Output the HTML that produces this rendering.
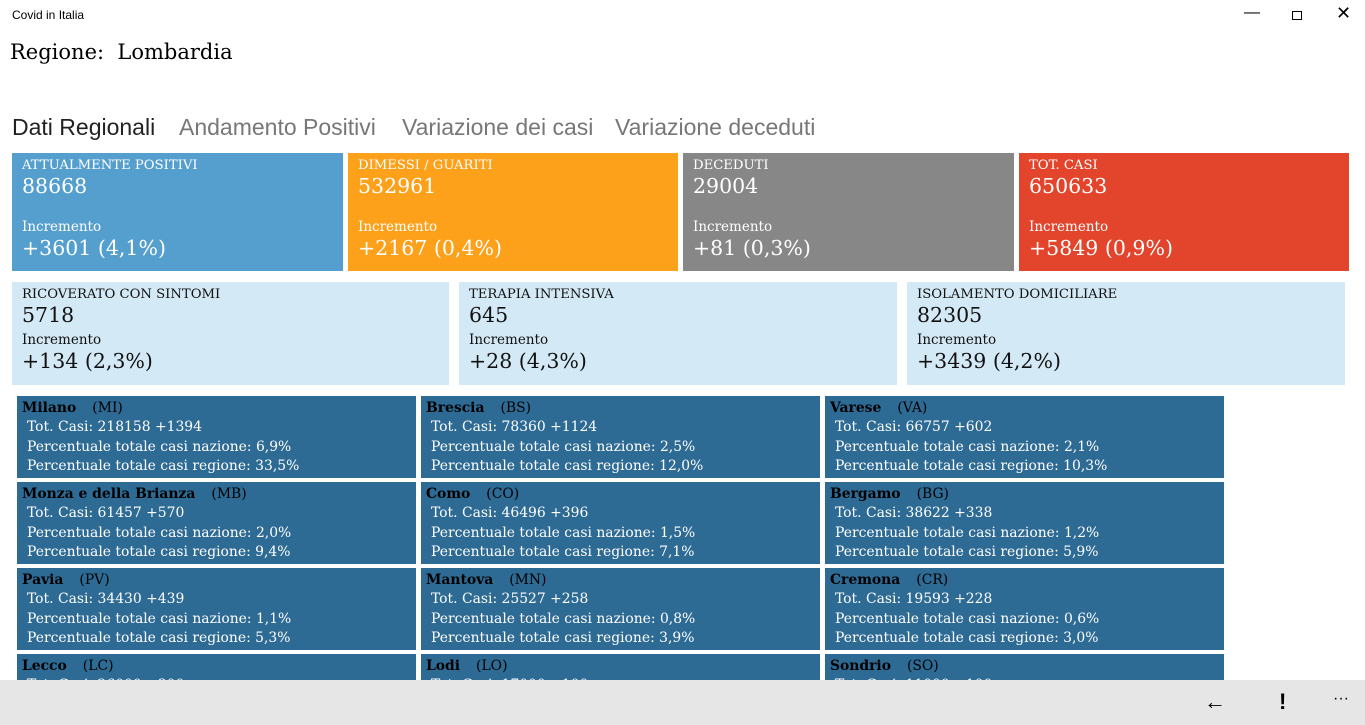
<!DOCTYPE html>
<html style="overflow:hidden;width:1365px;height:725px"><head><meta charset="utf-8"><style>
*{margin:0;padding:0;box-sizing:border-box}
body{width:1365px;height:725px;overflow:hidden;background:#fff;position:relative;font-family:"DejaVu Serif","Liberation Serif",serif}
.a{position:absolute}
.sans{font-family:"Liberation Sans",sans-serif}
.card{position:absolute;color:#fff;padding:5px 10px}
.card .t{font-size:13.2px;line-height:16px}
.card .n{font-size:20.5px;line-height:24px}
.card .i{font-size:13.5px;line-height:18px}
.lt{color:#111}
.p{position:absolute;background:#2d6a94;color:#fff;width:399px;height:82px;padding:3px 5px;font-size:13.9px;line-height:19.3px;white-space:nowrap}
.p b{color:#000}
.p span.c{color:#000;margin-left:16px}
.p div{padding-left:5px}
</style></head><body>
<div class="a sans" style="left:12px;top:8px;font-size:12px">Covid in Italia</div>
<div class="a sans" style="left:1244px;top:4px;font-size:16px">&#8212;</div>
<div class="a" style="left:1292px;top:11px;width:10px;height:9px;border:1px solid #000"></div>
<div class="a sans" style="left:1336px;top:3px;font-size:18px">✕</div>
<div class="a" style="left:10px;top:40px;font-size:21px">Regione:&nbsp; Lombardia</div>
<div class="a sans" style="left:12px;top:114px;font-size:23px;color:#222">Dati Regionali</div>
<div class="a sans" style="left:179px;top:114px;font-size:23px;color:#777">Andamento Positivi</div>
<div class="a sans" style="left:402px;top:114px;font-size:23px;color:#777">Variazione dei casi</div>
<div class="a sans" style="left:615px;top:114px;font-size:23px;color:#777">Variazione deceduti</div>

<div class="card" style="left:12px;top:153px;width:331px;height:118px;background:#559fcf"><div class="t">ATTUALMENTE POSITIVI</div><div class="n">88668</div><div class="i" style="margin-top:20px">Incremento</div><div class="n">+3601 (4,1%)</div></div>
<div class="card" style="left:348px;top:153px;width:330px;height:118px;background:#fda01a"><div class="t">DIMESSI / GUARITI</div><div class="n">532961</div><div class="i" style="margin-top:20px">Incremento</div><div class="n">+2167 (0,4%)</div></div>
<div class="card" style="left:683px;top:153px;width:331px;height:118px;background:#878787"><div class="t">DECEDUTI</div><div class="n">29004</div><div class="i" style="margin-top:20px">Incremento</div><div class="n">+81 (0,3%)</div></div>
<div class="card" style="left:1019px;top:153px;width:330px;height:118px;background:#e2452c"><div class="t">TOT. CASI</div><div class="n">650633</div><div class="i" style="margin-top:20px">Incremento</div><div class="n">+5849 (0,9%)</div></div>

<div class="card lt" style="left:12px;top:282px;width:437px;height:103px;background:#d4e9f6"><div class="t">RICOVERATO CON SINTOMI</div><div class="n">5718</div><div class="i" style="margin-top:4px">Incremento</div><div class="n">+134 (2,3%)</div></div>
<div class="card lt" style="left:459px;top:282px;width:438px;height:103px;background:#d4e9f6"><div class="t">TERAPIA INTENSIVA</div><div class="n">645</div><div class="i" style="margin-top:4px">Incremento</div><div class="n">+28 (4,3%)</div></div>
<div class="card lt" style="left:907px;top:282px;width:438px;height:103px;background:#d4e9f6"><div class="t">ISOLAMENTO DOMICILIARE</div><div class="n">82305</div><div class="i" style="margin-top:4px">Incremento</div><div class="n">+3439 (4,2%)</div></div>

<div class="p" style="left:17px;top:396px"><b>Milano</b><span class="c">(MI)</span><div>Tot. Casi: 218158 +1394</div><div>Percentuale totale casi nazione: 6,9%</div><div>Percentuale totale casi regione: 33,5%</div></div>
<div class="p" style="left:421px;top:396px"><b>Brescia</b><span class="c">(BS)</span><div>Tot. Casi: 78360 +1124</div><div>Percentuale totale casi nazione: 2,5%</div><div>Percentuale totale casi regione: 12,0%</div></div>
<div class="p" style="left:825px;top:396px"><b>Varese</b><span class="c">(VA)</span><div>Tot. Casi: 66757 +602</div><div>Percentuale totale casi nazione: 2,1%</div><div>Percentuale totale casi regione: 10,3%</div></div>
<div class="p" style="left:17px;top:482px"><b>Monza e della Brianza</b><span class="c">(MB)</span><div>Tot. Casi: 61457 +570</div><div>Percentuale totale casi nazione: 2,0%</div><div>Percentuale totale casi regione: 9,4%</div></div>
<div class="p" style="left:421px;top:482px"><b>Como</b><span class="c">(CO)</span><div>Tot. Casi: 46496 +396</div><div>Percentuale totale casi nazione: 1,5%</div><div>Percentuale totale casi regione: 7,1%</div></div>
<div class="p" style="left:825px;top:482px"><b>Bergamo</b><span class="c">(BG)</span><div>Tot. Casi: 38622 +338</div><div>Percentuale totale casi nazione: 1,2%</div><div>Percentuale totale casi regione: 5,9%</div></div>
<div class="p" style="left:17px;top:568px"><b>Pavia</b><span class="c">(PV)</span><div>Tot. Casi: 34430 +439</div><div>Percentuale totale casi nazione: 1,1%</div><div>Percentuale totale casi regione: 5,3%</div></div>
<div class="p" style="left:421px;top:568px"><b>Mantova</b><span class="c">(MN)</span><div>Tot. Casi: 25527 +258</div><div>Percentuale totale casi nazione: 0,8%</div><div>Percentuale totale casi regione: 3,9%</div></div>
<div class="p" style="left:825px;top:568px"><b>Cremona</b><span class="c">(CR)</span><div>Tot. Casi: 19593 +228</div><div>Percentuale totale casi nazione: 0,6%</div><div>Percentuale totale casi regione: 3,0%</div></div>
<div class="p" style="left:17px;top:654px;height:26px;overflow:hidden"><b>Lecco</b><span class="c">(LC)</span><div>Tot. Casi: 26000 +300</div></div>
<div class="p" style="left:421px;top:654px;height:26px;overflow:hidden"><b>Lodi</b><span class="c">(LO)</span><div>Tot. Casi: 17000 +100</div></div>
<div class="p" style="left:825px;top:654px;height:26px;overflow:hidden"><b>Sondrio</b><span class="c">(SO)</span><div>Tot. Casi: 11000 +100</div></div>

<div class="a" style="left:0;top:680px;width:1365px;height:45px;background:#e6e6e6"></div>
<div class="a sans" style="left:1204px;top:689px;font-size:22px">&#8592;</div>
<div class="a sans" style="left:1279px;top:689px;font-size:22px;font-weight:bold">!</div>
<div class="a sans" style="left:1333px;top:690px;font-size:16px">···</div>
</body></html>
